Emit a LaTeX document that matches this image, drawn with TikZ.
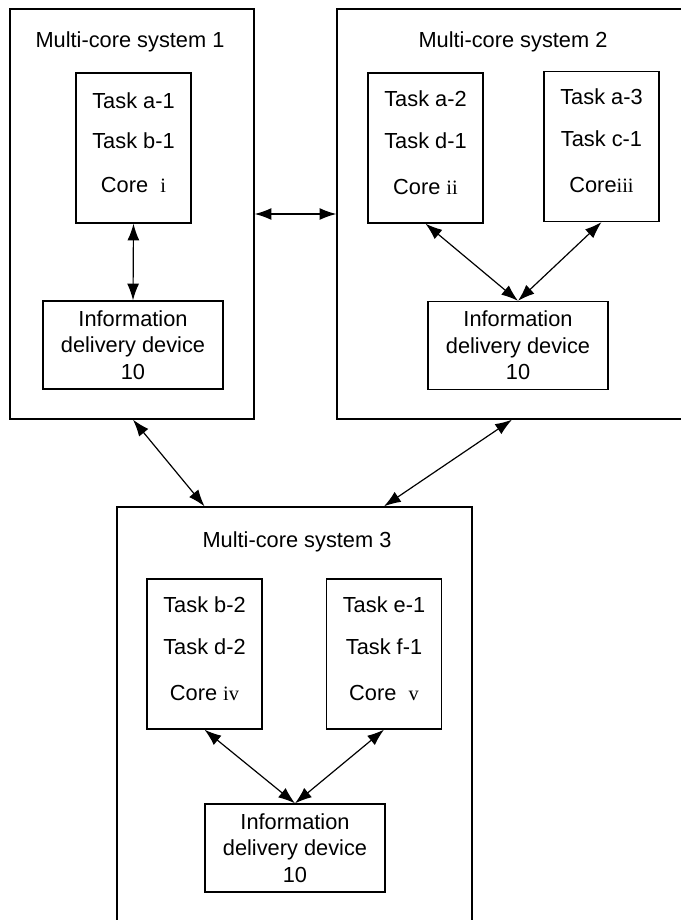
\documentclass[tikz,border=0pt]{standalone}
\usepackage{fontspec}
\setmainfont{Liberation Sans}
\newfontfamily\numfont{Liberation Serif}
\usetikzlibrary{arrows.meta}

\newcommand{\rn}[1]{{\fontsize{14.5}{14.5}\numfont #1}}

\begin{document}
\begin{tikzpicture}[x=0.025cm,y=-0.025cm,
	every node/.style={font=\fontsize{15.5}{18.9}\selectfont},
	system/.style={draw,line width=0.9pt,inner sep=0pt},
	core/.style={draw,line width=0.9pt,minimum width=2.875cm,minimum height=3.75cm,align=center,text depth=8pt},
	device/.style={draw,line width=0.9pt,minimum width=4.5cm,minimum height=2.2cm,align=center,inner sep=1pt},
	link/.style={{Latex[length=4.2mm,width=3mm]}-{Latex[length=4.2mm,width=3mm]},line width=0.85pt}]

	\useasboundingbox (0,0) rectangle (680,920);

	% the three systems
	\node[system,minimum width=6.1cm,minimum height=10.25cm] (sys1) at (132,214) {};
	\node[system,minimum width=8.625cm,minimum height=10.25cm] (sys2) at (509.5,214) {};
	\node[system,minimum width=8.875cm,minimum height=10.45cm] (sys3) at (294.5,716) {};
	\node (title1) at (130,42) {Multi-core system 1};
	\node (title2) at (513,42) {Multi-core system 2};
	\node (title3) at (297,542) {Multi-core system 3};

	% cores
	\node[core] (core1) at (133.5,148) {Task a-1\\[10pt]Task b-1\\[12pt]Core~~\rn{i}};
	\node[core] (core2) at (425.5,148) {Task a-2\\[11pt]Task d-1\\[14pt]Core \rn{ii}};
	\node[core] (core3) at (601.5,146.5) {Task a-3\\[11pt]Task c-1\\[14pt]Core\rn{iii}};
	\node[core] (core4) at (204.5,654) {Task b-2\\[11pt]Task d-2\\[14pt]Core \rn{iv}};
	\node[core] (core5) at (384,654) {Task e-1\\[11pt]Task f-1\\[14pt]Core~~\rn{v}};

	% delivery devices
	\node[device] (dev1) at (133,345) {Information\\delivery device\\10};
	\node[device] (dev2) at (518,345.5) {Information\\delivery device\\10};
	\node[device] (dev3) at (295,848) {Information\\delivery device\\10};

	% links
	\draw[link] (core1.south) -- (dev1.north);
	\draw[link] (core2.south) -- (dev2.north);
	\draw[link] (core3.south) -- (dev2.north);
	\draw[link] (core4.south) -- (dev3.north);
	\draw[link] (core5.south) -- (dev3.north);
	\draw[link] (sys1.east) -- (sys2.west);
	\draw[link] (sys1.south -| dev1) -- (sys3.north -| core4);
	\draw[link] ([xshift=-0.15cm]sys2.south -| dev2) -- (sys3.north -| core5);
\end{tikzpicture}
\end{document}
